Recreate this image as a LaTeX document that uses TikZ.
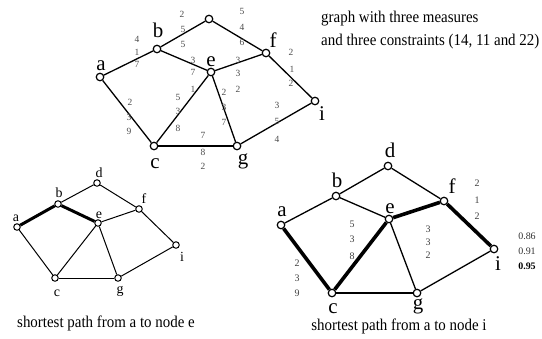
\documentclass[tikz,border=0pt]{standalone}
\usepackage{fontspec}
\setmainfont{Liberation Serif}
\begin{document}
\begin{tikzpicture}[x=1bp,y=-1bp,
  vtx/.style={circle,draw,fill=white,line width=1.2bp,inner sep=0pt,minimum size=7.5bp},
  svtx/.style={circle,draw,fill=white,line width=1bp,inner sep=0pt,minimum size=6.5bp},
  edge/.style={line width=1.3bp},
  sedge/.style={line width=1bp},
  hot/.style={line width=3.6bp},
  shot/.style={line width=3bp},
  big/.style={anchor=base,inner sep=0pt,font=\fontsize{21}{21}\selectfont},
  mid/.style={anchor=base,inner sep=0pt,font=\fontsize{14}{14}\selectfont},
  num/.style={inner sep=0pt,text=black!70,font=\fontsize{9.5}{9.5}\selectfont},
  rnum/.style={inner sep=0pt,text=black!75,font=\fontsize{10}{10}\selectfont},
  captxt/.style={inner sep=0pt,font=\fontsize{15}{15}\selectfont}
]
\useasboundingbox (0,0) rectangle (542,338);

% ---------- top graph ----------
\node[vtx] (ta) at (100,77) {};
\node[vtx] (tb) at (157,49) {};
\node[vtx] (td) at (209,19) {};
\node[vtx] (te) at (211,72) {};
\node[vtx] (tf) at (266,53) {};
\node[vtx] (ti) at (315,101) {};
\node[vtx] (tc) at (154,146) {};
\node[vtx] (tg) at (237,146) {};
\draw[edge] (ta) -- (tb);
\draw[edge] (tb) -- (td);
\draw[edge] (td) -- (tf);
\draw[edge] (tb) -- (te);
\draw[edge] (te) -- (tf);
\draw[edge] (tf) -- (ti);
\draw[edge] (ta) -- (tc);
\draw[edge] (tc) -- (te);
\draw[edge] (te) -- (tg);
\draw[edge] (tc) -- (tg);
\draw[edge] (tg) -- (ti);

\node[big] (tla) at (101,70) {a};
\node[big] (tlb) at (158,37) {b};
\node[big] (tle) at (211,66) {e};
\node[big] (tlf) at (273,47) {f};
\node[big] (tli) at (322,120) {i};
\node[big] (tlc) at (155,168) {c};
\node[big] (tlg) at (243,164) {g};

% weights
\node[num] (w1) at (137,39) {4}; \node[num] (w2) at (137,52) {1}; \node[num] (w3) at (137,64) {7};
\node[num] (w4) at (182,14) {2}; \node[num] (w5) at (183,29) {5}; \node[num] (w6) at (183,44) {5};
\node[num] (w7) at (242,11) {5}; \node[num] (w8) at (242,27) {4}; \node[num] (w9) at (242,42) {6};
\node[num] (w10) at (193,60) {3}; \node[num] (w11) at (193,72) {7}; \node[num] (w12) at (193,89) {1};
\node[num] (w13) at (238,60) {3}; \node[num] (w14) at (238,73) {3}; \node[num] (w15) at (238,89) {2};
\node[num] (w16) at (291,52) {2}; \node[num] (w17) at (292,69) {1}; \node[num] (w18) at (291,83) {2};
\node[num] (w19) at (130,102) {2}; \node[num] (w20) at (129,117) {3}; \node[num] (w21) at (129,131) {9};
\node[num] (w22) at (178,97) {5}; \node[num] (w23) at (178,111) {3}; \node[num] (w24) at (178,128) {8};
\node[num] (w25) at (224,92) {2}; \node[num] (w26) at (224,107) {3}; \node[num] (w27) at (224,122) {7};
\node[num] (w28) at (277,105) {3}; \node[num] (w29) at (277,121) {5}; \node[num] (w30) at (277,139) {4};
\node[num] (w31) at (203,135) {7}; \node[num] (w32) at (203,152) {8}; \node[num] (w33) at (203,166) {2};

\node[captxt,anchor=base west] (t1) at (321,22) {\scalebox{1}[1.1]{graph with three measures}};
\node[captxt,anchor=base west] (t2) at (321,45) {\scalebox{1}[1.1]{and three constraints (14, 11 and 22)}};

% ---------- bottom-left graph ----------
\node[svtx] (la) at (17,227) {};
\node[svtx] (lb) at (58,204) {};
\node[svtx] (ld) at (97,183) {};
\node[svtx] (le) at (98,223) {};
\node[svtx] (lf) at (139,209) {};
\node[svtx] (li) at (176,245) {};
\node[svtx] (lc) at (55,278) {};
\node[svtx] (lg) at (118,278) {};
\draw[shot] (la) -- (lb);
\draw[shot] (lb) -- (le);
\draw[sedge] (lb) -- (ld);
\draw[sedge] (ld) -- (lf);
\draw[sedge] (le) -- (lf);
\draw[sedge] (lf) -- (li);
\draw[sedge] (la) -- (lc);
\draw[sedge] (lc) -- (le);
\draw[sedge] (le) -- (lg);
\draw[sedge] (lc) -- (lg);
\draw[sedge] (lg) -- (li);
\node[mid] (lla) at (16,221) {a};
\node[mid] (llb) at (59,197) {b};
\node[mid] (lld) at (99,177) {d};
\node[mid] (lle) at (99,218) {e};
\node[mid] (llf) at (144,203) {f};
\node[mid] (lli) at (182,261) {i};
\node[mid] (llc) at (57,296) {c};
\node[mid] (llg) at (120,293) {g};
\node[captxt] (lcap) at (106,323) {\scalebox{1}[1.1]{shortest path from a to node e}};

% ---------- bottom-right graph ----------
\node[vtx] (ra) at (281,225) {};
\node[vtx] (rb) at (336,196) {};
\node[vtx] (rd) at (388,166) {};
\node[vtx] (re) at (389,219) {};
\node[vtx] (rf) at (444,201) {};
\node[vtx] (ri) at (494,249) {};
\node[vtx] (rc) at (332,293) {};
\node[vtx] (rg) at (417,293) {};
\draw[edge] (ra) -- (rb);
\draw[edge] (rb) -- (rd);
\draw[edge] (rd) -- (rf);
\draw[edge] (rb) -- (re);
\draw[hot] (re) -- (rf);
\draw[hot] (rf) -- (ri);
\draw[hot] (ra) -- (rc);
\draw[hot] (rc) -- (re);
\draw[edge] (re) -- (rg);
\draw[edge] (rc) -- (rg);
\draw[edge] (rg) -- (ri);
\node[big] (rla) at (282,216) {a};
\node[big] (rlb) at (337,187) {b};
\node[big] (rld) at (390,157) {d};
\node[big] (rle) at (390,213) {e};
\node[big] (rlf) at (452,193) {f};
\node[big] (rli) at (498,270) {i};
\node[big] (rlc) at (333,313) {c};
\node[big] (rlg) at (418,309) {g};

\node[rnum] (r1) at (477,183) {2}; \node[rnum] (r2) at (477,200) {1}; \node[rnum] (r3) at (477,216) {2};
\node[rnum] (r4) at (352,224) {5}; \node[rnum] (r5) at (352,239) {3}; \node[rnum] (r6) at (352,256) {8};
\node[rnum] (r7) at (428,229) {3}; \node[rnum] (r8) at (428,242) {3}; \node[rnum] (r9) at (428,255) {2};
\node[rnum] (r10) at (297,263) {2}; \node[rnum] (r11) at (297,278) {3}; \node[rnum] (r12) at (297,293) {9};
\node[rnum,text=black!80] (r13) at (527,236) {0.86};
\node[rnum,text=black!80] (r14) at (527,251) {0.91};
\node[rnum,text=black,font=\fontsize{10}{10}\selectfont\bfseries] (r15) at (527,266) {0.95};
\node[captxt] (rcap) at (399,326) {\scalebox{1}[1.1]{shortest path from a to node i}};
\end{tikzpicture}
\end{document}
